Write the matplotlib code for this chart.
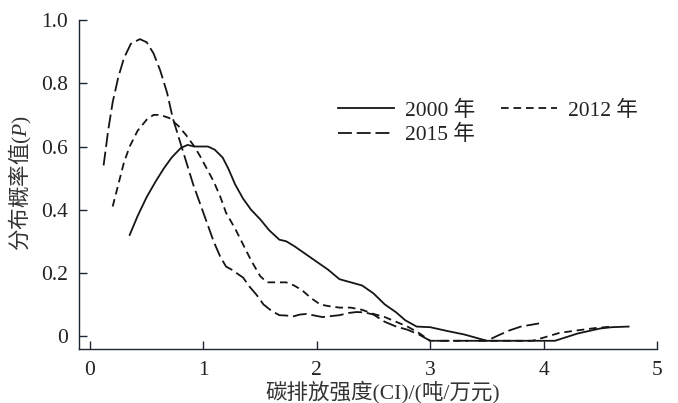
import matplotlib
matplotlib.use('Agg')
import matplotlib.pyplot as plt

plt.rcParams['font.family'] = ['Liberation Serif', 'Noto Sans CJK SC']
plt.rcParams['mathtext.fontset'] = 'custom'
plt.rcParams['mathtext.rm'] = 'Liberation Serif'
plt.rcParams['mathtext.it'] = 'Liberation Serif:italic'
plt.rcParams['lines.scale_dashes'] = False

# 2000 year (solid)
x2000 = [0.35, 0.42, 0.5, 0.58, 0.65, 0.72, 0.8, 0.86, 0.92, 0.97, 1.04, 1.1, 1.17, 1.22, 1.28,
         1.35, 1.42, 1.5, 1.58, 1.67, 1.73, 1.8, 1.9, 2.0, 2.1, 2.2, 2.3, 2.4, 2.5, 2.6, 2.7,
         2.78, 2.88, 3.0, 3.15, 3.3, 3.5, 3.8, 4.1, 4.3, 4.5, 4.6, 4.75]
y2000 = [0.32, 0.38, 0.44, 0.49, 0.53, 0.565, 0.595, 0.605, 0.60, 0.60, 0.60, 0.59, 0.565, 0.53, 0.48,
         0.435, 0.40, 0.37, 0.335, 0.305, 0.30, 0.285, 0.26, 0.235, 0.21, 0.18, 0.17, 0.16, 0.135, 0.10, 0.075,
         0.05, 0.03, 0.028, 0.016, 0.005, -0.015, -0.015, -0.015, 0.008, 0.024, 0.028, 0.03]

# 2012 year (short dash)
x2012 = [0.2, 0.25, 0.3, 0.35, 0.42, 0.5, 0.56, 0.62, 0.7, 0.78, 0.85, 0.92, 0.97, 1.03, 1.09,
         1.15, 1.2, 1.28, 1.35, 1.42, 1.5, 1.56, 1.65, 1.73, 1.8, 1.87, 1.95, 2.03, 2.1, 2.2,
         2.3, 2.4, 2.5, 2.6, 2.7, 2.8, 2.9, 3.0, 3.5, 3.9, 4.0, 4.14, 4.3, 4.45, 4.6]
y2012 = [0.41, 0.48, 0.55, 0.60, 0.65, 0.685, 0.70, 0.70, 0.69, 0.665, 0.635, 0.60, 0.57, 0.53, 0.49,
         0.44, 0.39, 0.34, 0.29, 0.24, 0.19, 0.17, 0.17, 0.17, 0.16, 0.145, 0.12, 0.10, 0.095, 0.09,
         0.09, 0.083, 0.07, 0.06, 0.045, 0.03, 0.01, -0.015, -0.015, -0.015, -0.005, 0.01, 0.018, 0.025, 0.03]

# 2015 year (long dash)
x2015 = [0.12, 0.16, 0.2, 0.25, 0.3, 0.36, 0.44, 0.5, 0.56, 0.62, 0.68, 0.73, 0.79, 0.85, 0.91,
         0.97, 1.03, 1.09, 1.15, 1.2, 1.25, 1.29, 1.35, 1.41, 1.47, 1.53, 1.6, 1.67, 1.73, 1.79,
         1.85, 1.91, 1.98, 2.05, 2.12, 2.2, 2.28, 2.35, 2.42, 2.5, 2.6, 2.7, 2.8, 2.9, 3.0,
         3.5, 3.6, 3.7, 3.8, 3.96]
y2015 = [0.54, 0.65, 0.74, 0.82, 0.88, 0.925, 0.94, 0.93, 0.895, 0.84, 0.77, 0.69, 0.62, 0.55, 0.48,
         0.42, 0.36, 0.30, 0.25, 0.22, 0.21, 0.20, 0.185, 0.155, 0.13, 0.10, 0.08, 0.066, 0.065, 0.062,
         0.068, 0.07, 0.065, 0.06, 0.063, 0.066, 0.073, 0.076, 0.075, 0.068, 0.045, 0.03, 0.02, 0.005, -0.015,
         -0.015, 0.002, 0.018, 0.03, 0.04]

xticks = [0, 1, 2, 3, 4, 5]
yticks = [0, 0.2, 0.4, 0.6, 0.8, 1.0]
ytick_labels = ['0', '0.2', '0.4', '0.6', '0.8', '1.0']

fig = plt.figure(figsize=(6.78, 4.03), dpi=100)
ax = fig.add_axes([0.1165, 0.134, 0.8525, 0.816])

lc = '#151515'
l1, = ax.plot(x2000, y2000, color=lc, lw=1.3, label='2000 年')
l2, = ax.plot(x2012, y2012, color=lc, lw=1.3, dashes=(5.5, 3.5), label='2012 年')
l3, = ax.plot(x2015, y2015, color=lc, lw=1.3, dashes=(10, 3.5), label='2015 年')

ax.set_xlim(-0.097, 5.0)
ax.set_ylim(-0.041, 1.0)
ax.set_xticks(xticks)
ax.set_yticks(yticks)
ax.set_yticklabels(ytick_labels)

spc = '#1c2533'
for s in ['top', 'right']:
    ax.spines[s].set_visible(False)
for s in ['left', 'bottom']:
    ax.spines[s].set_color(spc)
    ax.spines[s].set_linewidth(1.0)
ax.tick_params(direction='in', length=5.5, width=1.0, color=spc, labelsize=15.5,
               labelcolor='#222222')
ax.tick_params(axis='x', pad=9)
ax.tick_params(axis='y', pad=8)

ax.set_xlabel('碳排放强度(CI)/(吨/万元)', fontsize=15.5, color='#333333', va='center')
ax.xaxis.set_label_coords(0.525, -0.131)
# CJK font as the base so mathtext non-math part has the glyphs
ax.set_ylabel('分布概率值$(P)$', fontsize=15.5, color='#333333',
              family='Noto Sans CJK SC', va='center', ha='center')
ax.yaxis.set_label_coords(-0.102, 0.505)

ax.legend(handles=[l1, l3, l2], ncol=2, frameon=False, fontsize=15.5,
          loc='upper left', bbox_to_anchor=(0.415, 0.815), handlelength=2.6,
          handletextpad=0.5, columnspacing=1.2, labelspacing=0.2,
          labelcolor='#222222')

fig.savefig('out.png', dpi=100, facecolor='white')
